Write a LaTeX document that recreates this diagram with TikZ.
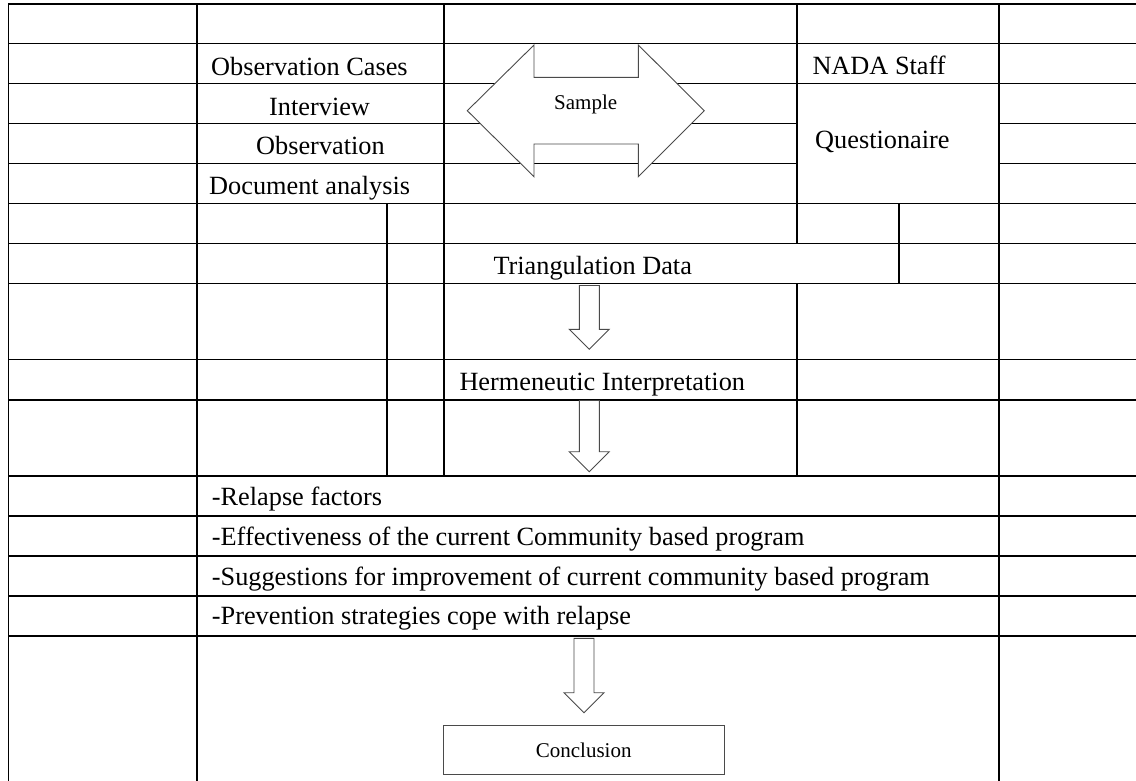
\documentclass[tikz,border=0pt]{standalone}
\usepackage{fontspec}
\setmainfont{Liberation Serif}
\definecolor{arrowgray}{HTML}{4A4A4A}
\tikzset{
  gridline/.style={line width=1.4pt, black, line cap=rect},
  blk/.style={draw=arrowgray, line width=0.9pt, fill=white, line join=miter},
  txt/.style={anchor=base west, inner sep=0pt, font=\fontsize{26.3}{30}\selectfont},
  smalltxt/.style={anchor=base west, inner sep=0pt, font=\fontsize{21}{24}\selectfont},
  conclbox/.style={draw=arrowgray, line width=1pt, fill=white, inner sep=0pt,
    minimum width=280.7pt, minimum height=48.3pt, font=\fontsize{21}{24}\selectfont}
}
\newcommand{\DownBlock}[3]{%
  \draw[blk] (#1-10,#2) -- (#1+10,#2) -- (#1+10,#3-20) -- (#1+20,#3-20) -- (#1,#3)
    -- (#1-20,#3-20) -- (#1-10,#3-20) -- cycle;}
\begin{document}
\begin{tikzpicture}[x=1pt,y=-1pt]
\clip (0,0) rectangle (1136,780);
\fill[white] (0,0) rectangle (1136,780);
% horizontal rules
\foreach \yy in {4,43.5,83.5,203.5,243.5,283.5,359.5,400,476,516,556,596,636}
  \draw[gridline] (8.5,\yy) -- (1140,\yy);
\foreach \yy in {123.5,163.5}{
  \draw[gridline] (8.5,\yy) -- (797,\yy);
  \draw[gridline] (999,\yy) -- (1140,\yy);}
% vertical rules
\draw[gridline] (8.5,4) -- (8.5,790);
\draw[gridline] (197,4) -- (197,790);
\draw[gridline] (387,203.5) -- (387,476);
\draw[gridline] (444,4) -- (444,476);
\draw[gridline] (797,4) -- (797,243.5);
\draw[gridline] (797,283.5) -- (797,476);
\draw[gridline] (899,203.5) -- (899,283.5);
\draw[gridline] (999,4) -- (999,790);
% Sample double arrow
\draw[blk] (467.3,110.7) -- (534,45) -- (534,77.3) -- (638.3,77.3) -- (638.3,45)
  -- (704.3,110.7) -- (638.3,176.7) -- (638.3,144) -- (534,144) -- (534,176.7) -- cycle;
\node[smalltxt] (sample) at (554,109.3) {Sample};
% left column texts
\node[txt] (obscases) at (211,75.5) {Observation Cases};
\node[txt] (interview) at (269,115) {Interview};
\node[txt] (observation) at (256,154) {Observation};
\node[txt] (docanalysis) at (209,194) {Document analysis};
% right texts
\node[txt] (nada) at (812.3,74.5) {NADA Staff};
\node[txt] (quest) at (815,148.3) {Questionaire};
% middle flow
\node[txt] (triang) at (493.3,274) {Triangulation Data};
\DownBlock{589.3}{285.5}{349.3}
\node[txt] (herm) at (459.3,390.5) {Hermeneutic Interpretation};
\DownBlock{589.3}{400.5}{471.7}
% findings
\node[txt] (relapse) at (211.7,505) {-Relapse factors};
\node[txt] (effect) at (211.7,545) {-Effectiveness of the current Community based program};
\node[txt] (suggest) at (211.7,585) {-Suggestions for improvement of current community based program};
\node[txt] (prevent) at (211.7,624.5) {-Prevention strategies cope with relapse};
\DownBlock{584}{638.3}{712.7}
\node[conclbox] (concl) at (583.7,749.9) {Conclusion};
\end{tikzpicture}
\end{document}
